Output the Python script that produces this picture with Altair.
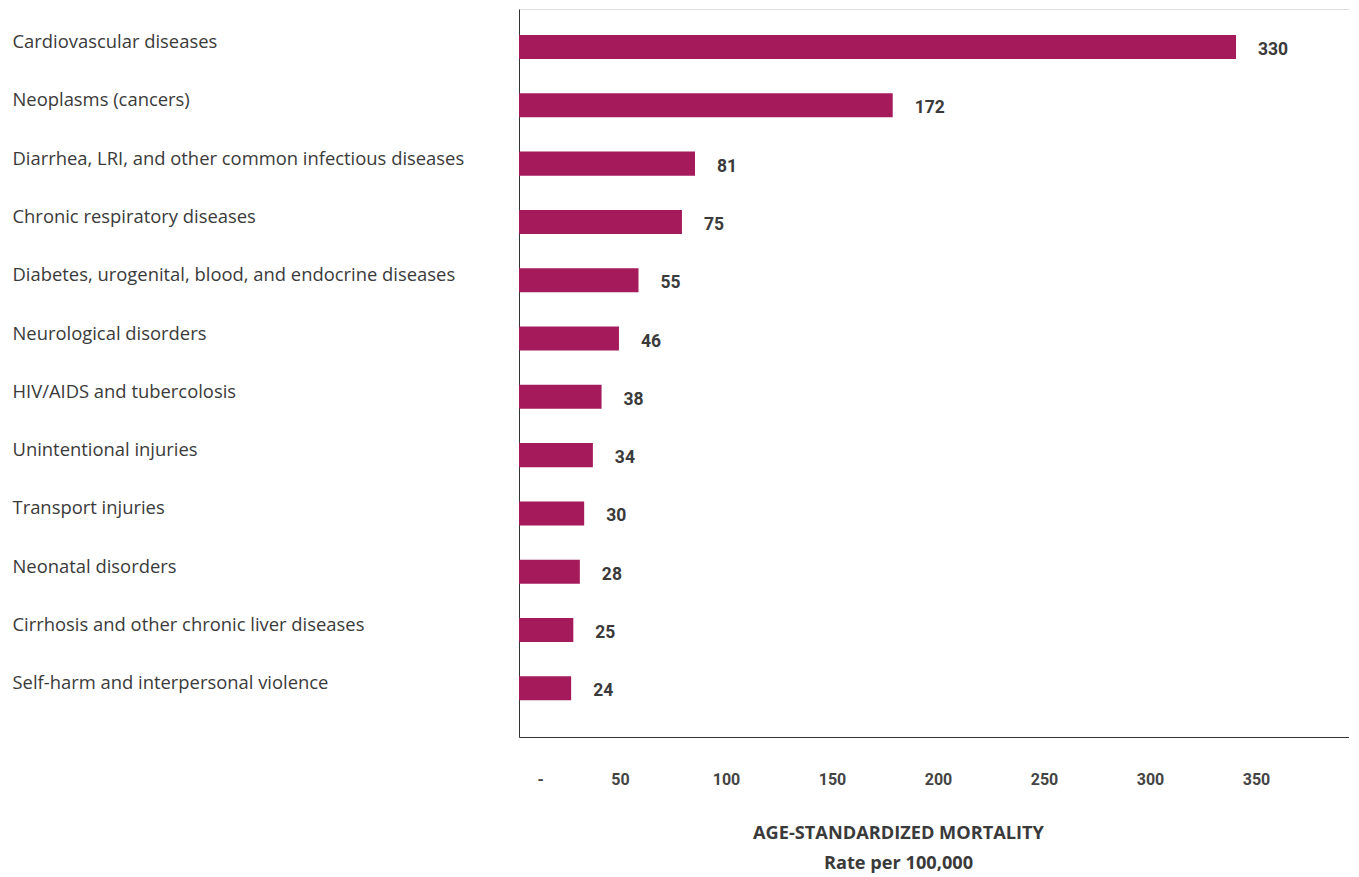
import altair as alt
import pandas as pd

categories = [
    "Cardiovascular diseases",
    "Neoplasms (cancers)",
    "Diarrhea, LRI, and other common infectious diseases",
    "Chronic respiratory diseases",
    "Diabetes, urogenital, blood, and endocrine diseases",
    "Neurological disorders",
    "HIV/AIDS and tubercolosis",
    "Unintentional injuries",
    "Transport injuries",
    "Neonatal disorders",
    "Cirrhosis and other chronic liver diseases",
    "Self-harm and interpersonal violence",
]
values = [330, 172, 81, 75, 55, 46, 38, 34, 30, 28, 25, 24]
tick_values = [0, 50, 100, 150, 200, 250, 300, 350]

df = pd.DataFrame({"cause": categories, "rate": values})

BAR = "#A41A5B"
TXT = "#3a3a3a"
CAT_FONT = "Open Sans"
NUM_FONT = "Roboto"

y_enc = alt.Y(
    "cause:N",
    sort=None,
    title=None,
    scale=alt.Scale(paddingInner=0.588, paddingOuter=0.5375, align=0.415),
    axis=alt.Axis(
        ticks=False,
        tickSize=0,
        grid=False,
        domain=True,
        domainColor="#333333",
        domainWidth=1,
        labelAlign="left",
        labelBaseline="alphabetic",
        labelPadding=507,
        labelOffset=1,
        labelLimit=700,
        labelFont=CAT_FONT,
        labelFontSize=18.4,
        labelColor=TXT,
    ),
)

base = alt.Chart(df)

bars = base.mark_bar(color=BAR).encode(
    y=y_enc,
    x=alt.X("rate:Q", scale=alt.Scale(domain=[0, 382], nice=False, zero=False), axis=None),
)

labels = base.mark_text(
    align="left", baseline="middle", dx=22, dy=3,
    font=NUM_FONT, fontSize=17.5, fontWeight="bold", color=TXT,
).encode(
    y=y_enc,
    x=alt.X("rate:Q", scale=alt.Scale(domain=[0, 382], nice=False, zero=False), axis=None),
    text=alt.Text("rate:Q"),
)

axis_layer = base.mark_point(opacity=0).encode(
    y=y_enc,
    x=alt.X(
        "rate:Q",
        scale=alt.Scale(domain=[0, 391.5], nice=False, zero=False),
        axis=alt.Axis(
            orient="bottom",
            values=tick_values,
            labelExpr="datum.value == 0 ? '-' : datum.label",
            ticks=False,
            tickSize=0,
            grid=False,
            domain=True,
            domainColor="#333333",
            domainWidth=1,
            labelBaseline="alphabetic",
            labelPadding=47,
            labelFont=NUM_FONT,
            labelFontSize=16,
            labelFontWeight="bold",
            labelColor="#444444",
            labelOffset={"condition": {"test": "datum.value == 0", "value": 18}, "value": -5},
            title=["AGE-STANDARDIZED MORTALITY", "Rate per 100,000"],
            titleFont=CAT_FONT,
            titleFontSize=18.2,
            titleFontWeight="bold",
            titleColor=TXT,
            titleX=379,
            titleY=101,
            titleAlign="center",
            titleBaseline="alphabetic",
            titleLineHeight=30,
        ),
    ),
)

chart = (
    alt.layer(bars, labels, axis_layer)
    .resolve_scale(x="independent")
    .properties(
        width=830,
        height=728,
        padding={"left": 4, "top": 1, "right": 0, "bottom": 30},
    )
    .configure_view(stroke="transparent", strokeWidth=0)
    .configure_axisTop(domain=False, labels=False, ticks=False, grid=False)
    .configure_axis(grid=False)
    .configure(background="white")
)

chart.save("out.html", embed_options={"renderer": "svg", "actions": False})
